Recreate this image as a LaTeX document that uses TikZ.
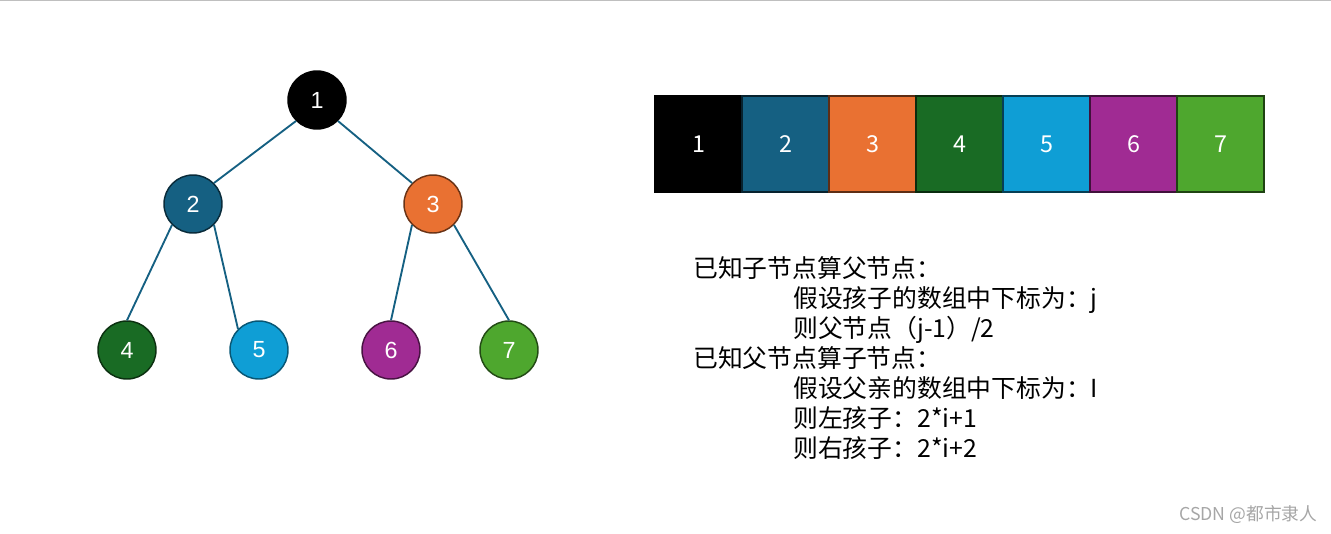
\documentclass[tikz,border=0pt]{standalone}
\usepackage{fontspec}
\setmainfont{Liberation Sans}
\newfontfamily\cjk{Noto Sans CJK SC}
\usetikzlibrary{positioning}

\definecolor{heapteal}{HTML}{156082}
\definecolor{heaporange}{HTML}{E97132}
\definecolor{heapgreen}{HTML}{196B24}
\definecolor{heapsky}{HTML}{0F9ED5}
\definecolor{heappurple}{HTML}{A02B93}
\definecolor{heaplime}{HTML}{4EA72E}

\begin{document}
\begin{tikzpicture}[
    x=0.75pt, y=-0.75pt,
    vertex/.style={
        circle, line width=1.1pt, minimum size=43.5pt, inner sep=0pt,
        text=white, font=\fontsize{17.5}{17.5}\selectfont
    },
    cell/.style={
        rectangle, line width=1.1pt,
        minimum width=65.25pt, minimum height=72pt, inner sep=0pt,
        text=white, font=\cjk\fontsize{17.5}{17.5}\selectfont
    },
    edge/.style={draw=heapteal, line width=1.4pt},
    memo/.style={anchor=base west, inner sep=0pt, font=\cjk\fontsize{18.6}{18.6}\selectfont}
]
\useasboundingbox (0,0) rectangle (1331,533);
\draw[black!25, line width=1.1pt] (0,0.7) -- (1331,0.7);

% tree
\node[vertex, fill=black, draw=black]                   (n1) at (317,100) {1};
\node[vertex, fill=heapteal, draw=heapteal!45!black]     (n2) at (193,204) {2};
\node[vertex, fill=heaporange, draw=heaporange!45!black] (n3) at (433,204) {3};
\node[vertex, fill=heapgreen, draw=heapgreen!45!black]   (n4) at (127,350) {4};
\node[vertex, fill=heapsky, draw=heapsky!55!black]       (n5) at (259,350) {5};
\node[vertex, fill=heappurple, draw=heappurple!45!black] (n6) at (391,350) {6};
\node[vertex, fill=heaplime, draw=heaplime!45!black]     (n7) at (509,350) {7};

\draw[edge] (n1.south west) -- (n2.north east);
\draw[edge] (n1.south east) -- (n3.north west);
\draw[edge] (n2.south west) -- (n4.north);
\draw[edge] (n2.south east) -- (n5.north west);
\draw[edge] (n3.south west) -- (n6.north);
\draw[edge] (n3.south east) -- (n7.north);

% array
\node[cell, fill=black, draw=black]                   (a1) at (698.5,144)  {1};
\node[cell, fill=heapteal, draw=heapteal!35!black]     (a2) at (785.5,144)  {2};
\node[cell, fill=heaporange, draw=heaporange!40!black] (a3) at (872.5,144)  {3};
\node[cell, fill=heapgreen, draw=heapgreen!40!black]   (a4) at (959.5,144)  {4};
\node[cell, fill=heapsky, draw=heapsky!40!black]       (a5) at (1046.5,144) {5};
\node[cell, fill=heappurple, draw=heappurple!40!black] (a6) at (1133.5,144) {6};
\node[cell, fill=heaplime, draw=heaplime!40!black]     (a7) at (1220.5,144) {7};

% notes
\node[memo] (m1) at (693,277) {已知子节点算父节点：};
\node[memo] (m2) at (793,307) {假设孩子的数组中下标为：j};
\node[memo] (m3) at (793,337) {则父节点（j-1）/2};
\node[memo] (m4) at (693,367) {已知父节点算子节点：};
\node[memo] (m5) at (793,397) {假设父亲的数组中下标为：I};
\node[memo] (m6) at (793,427) {则左孩子：2*i+1};
\node[memo] (m7) at (793,457) {则右孩子：2*i+2};

\node[anchor=west, inner sep=0pt, text=black!35, font=\cjk\fontsize{13.3}{13.3}\selectfont]
    (mark) at (1179,515) {CSDN @都市隶人};
\end{tikzpicture}
\end{document}
